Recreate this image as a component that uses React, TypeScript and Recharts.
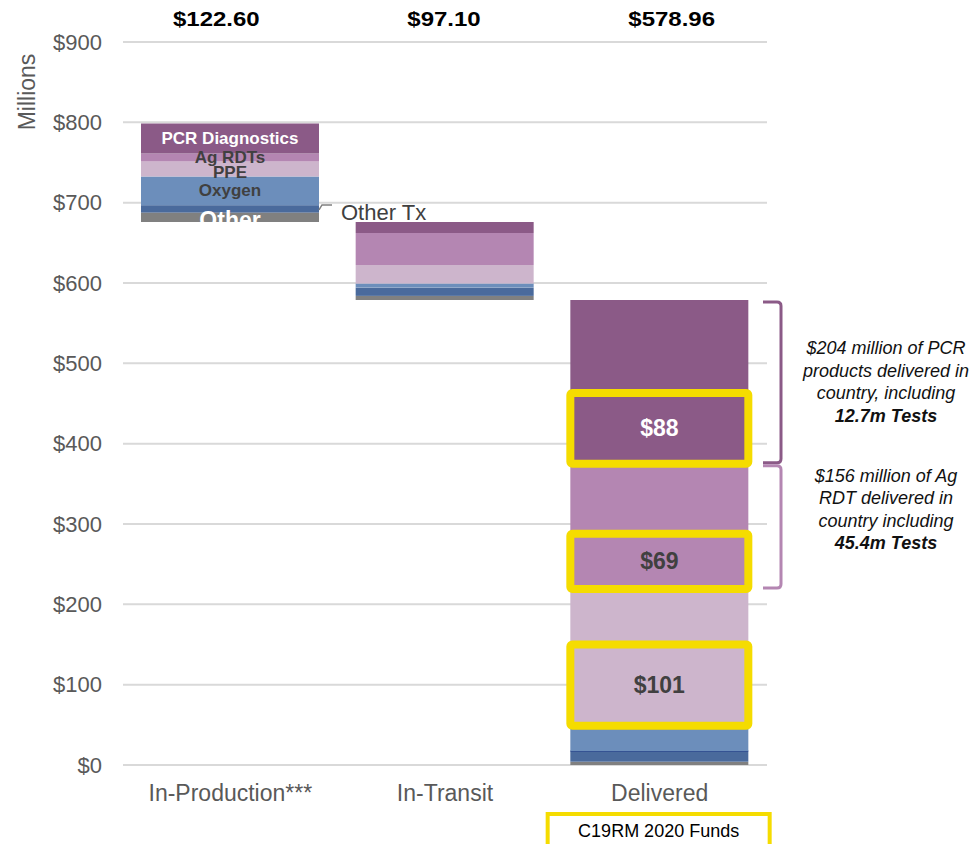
import { Bar, BarChart, CartesianGrid, LabelList, ReferenceArea, XAxis, YAxis } from "recharts";

// values in $ millions
const categories = ["In-Production***", "In-Transit", "Delivered"];
const totalLabels = ["$122.60", "$97.10", "$578.96"];
const baseValues = [676.06, 578.96, 0];
const otherValues = [11.6, 5.0, 4.1];
const otherTxValues = [9.2, 10.3, 13.3];
const oxygenValues = [35.6, 5.0, 31.6];
const ppeValues = [18.7, 23.2, 169.96];
const agRdtValues = [10.0, 39.8, 156.0];
const pcrValues = [37.5, 13.8, 204.0];
const yTicks = [0, 100, 200, 300, 400, 500, 600, 700, 800, 900];

// C19RM 2020 funded portions of delivered items (bottom of each segment)
const fundedKeys = ["ppe", "agRdt", "pcr"];
const fundedValues = [101, 69, 88];
const fundedLabels = ["$101", "$69", "$88"];

const noteKeys = ["pcr", "agRdt"];
const noteLines = [
  ["$204 million of PCR", "products delivered in", "country, including", "12.7m Tests"],
  ["$156 million of Ag", "RDT delivered in", "country  including", "45.4m Tests"],
];

const SEGMENTS = [
  { key: "other", color: "#808080" },
  { key: "otherTx", color: "#4A6A9C" },
  { key: "oxygen", color: "#6C8EBB" },
  { key: "ppe", color: "#CDB5CC" },
  { key: "agRdt", color: "#B486B2" },
  { key: "pcr", color: "#8B5A87" },
];

const data = categories.map((name, i) => ({
  name,
  base: baseValues[i],
  other: otherValues[i],
  otherTx: otherTxValues[i],
  oxygen: oxygenValues[i],
  ppe: ppeValues[i],
  agRdt: agRdtValues[i],
  pcr: pcrValues[i],
}));

const BAR_SIZE = 178;
const YELLOW = "#F5DC00";
const GREY = "#595959";
const FONT = "'Liberation Sans', Arial, sans-serif";
const TOP_DX = [-14, -1, 12];
const NOTE_SHIFT = [0, -17];
const NOTE_COLORS = ["#8B5A87", "#B486B2"];

const DELIVERED = categories.length - 1;

function segmentBottom(key: string, i: number) {
  const row: any = data[i];
  let sum = row.base;
  for (const s of SEGMENTS) {
    if (s.key === key) break;
    sum += row[s.key];
  }
  return sum;
}

function segmentLabel(text: string, color: string, size: number, shift = 0) {
  return (props: any) => {
    if (props.index !== 0) return null;
    const x = Number(props.x);
    const y = Number(props.y);
    const w = Number(props.width);
    const h = Number(props.height);
    return (
      <text
        x={x + w / 2}
        y={y + h / 2 + shift}
        textAnchor="middle"
        dominantBaseline="central"
        fontSize={size}
        fontWeight={700}
        fill={color}
      >
        {text}
      </text>
    );
  };
}

// yellow C19RM box drawn over the bottom part of a Delivered segment
function fundLabel(key: string) {
  const k = fundedKeys.indexOf(key);
  return (props: any) => {
    if (props.index !== DELIVERED) return null;
    const x = Number(props.x);
    const y = Number(props.y);
    const w = Number(props.width);
    const h = Number(props.height);
    const boxH = (h * fundedValues[k]) / (data[DELIVERED] as any)[key];
    const top = y + h - boxH;
    return (
      <g>
        <rect x={x} y={top} width={w} height={boxH} rx={2} fill="none" stroke={YELLOW} strokeWidth={8} />
        <text
          x={x + w / 2}
          y={top + boxH / 2}
          textAnchor="middle"
          dominantBaseline="central"
          fontSize={23}
          fontWeight={700}
          fill={key === "pcr" ? "#fff" : "#404040"}
        >
          {fundedLabels[k]}
        </text>
      </g>
    );
  };
}

function otherTxLabel(props: any) {
  if (props.index !== 0) return null;
  const x = Number(props.x) + Number(props.width);
  const y = Number(props.y) + Number(props.height) / 2;
  return (
    <g>
      <polyline points={`${x},${y + 1} ${x + 3},${y - 4} ${x + 13},${y - 4}`} fill="none" stroke="#808080" strokeWidth={1.5} />
      <text x={x + 22} y={y + 4} dominantBaseline="central" fontSize={22} fill="#404040">
        Other Tx
      </text>
    </g>
  );
}

function otherTxShape(props: any) {
  const { x, y, width, height, fill, index } = props;
  return (
    <g>
      <rect x={x} y={y} width={width} height={height} fill={fill} />
      {index === DELIVERED && <line x1={x} x2={x + width} y1={y} y2={y} stroke="#1F3A8A" strokeWidth={1.2} />}
    </g>
  );
}

function CategoryTick(props: any) {
  const { x, y, payload } = props;
  return (
    <g>
      <text x={x} y={y + 28} textAnchor="middle" fontSize={23} fill={GREY}>
        {payload.value}
      </text>
      {payload.value === categories[DELIVERED] && (
        <g>
          <rect x={x - 112} y={y + 41} width={222} height={40} fill="#fff" stroke={YELLOW} strokeWidth={4} />
          <text x={x - 1} y={y + 64} textAnchor="middle" fontSize={18} fill="#000">
            C19RM 2020 Funds
          </text>
        </g>
      )}
    </g>
  );
}

function TotalTick(props: any) {
  const { x, y, payload } = props;
  const i = categories.indexOf(payload.value);
  return (
    <g transform={`translate(${x + TOP_DX[i]},${y - 8}) scale(1.2,1)`}>
      <text x={0} y={0} textAnchor="middle" fontSize={20} fontWeight={700} fill="#000">
        {totalLabels[i]}
      </text>
    </g>
  );
}

function noteBracket(lines: string[], color: string, shift: number) {
  return (props: any) => {
    const { x, y, width, height } = props;
    const right = x + width;
    const top = y + 2;
    const bottom = y + height - 1;
    const mid = y + height / 2 + shift;
    const lh = 22.5;
    const first = mid - ((lines.length - 1) * lh) / 2 + 6;
    return (
      <g>
        <path
          d={`M${right - 4},${top} H${right + 10} Q${right + 14},${top} ${right + 14},${top + 4} V${bottom - 4} Q${right + 14},${bottom} ${right + 10},${bottom} H${right - 4}`}
          fill="none"
          stroke={color}
          strokeWidth={3}
        />
        {lines.map((line, k) => (
          <text
            key={k}
            x={right + 119}
            y={first + k * lh}
            textAnchor="middle"
            fontSize={18}
            fontStyle="italic"
            fontWeight={k === lines.length - 1 ? 700 : 400}
            fill="#111"
          >
            {line}
          </text>
        ))}
      </g>
    );
  };
}

export default function App() {
  return (
    <div style={{ position: "absolute", left: 0, top: 0, fontFamily: FONT }}>
      <BarChart
        width={977}
        height={844}
        data={data}
        margin={{ top: 0, right: 210, bottom: 0, left: 0 }}
        barSize={BAR_SIZE}
        style={{ fontFamily: FONT }}
      >
        <CartesianGrid vertical={false} stroke="#D9D9D9" strokeWidth={2} />
        <XAxis
          dataKey="name"
          axisLine={false}
          tickLine={false}
          interval={0}
          height={79}
          tick={(p: any) => <CategoryTick {...p} />}
        />
        <XAxis
          xAxisId="top"
          orientation="top"
          dataKey="name"
          axisLine={false}
          tickLine={false}
          interval={0}
          height={42}
          tick={(p: any) => <TotalTick {...p} />}
        />
        <YAxis
          domain={[0, 900]}
          ticks={yTicks}
          interval={0}
          width={123}
          axisLine={false}
          tickLine={false}
          tickMargin={15}
          tickFormatter={(v) => `$${v}`}
          tick={{ fontSize: 22, fill: GREY }}
          label={{
            content: () => (
              <text x={35} y={92} transform="rotate(-90 35 92)" textAnchor="middle" fontSize={23} fill={GREY}>
                Millions
              </text>
            ),
          }}
        />
        <Bar dataKey="base" stackId="s" fill="transparent" isAnimationActive={false} />
        <Bar dataKey="other" stackId="s" fill="#808080" isAnimationActive={false}>
          <LabelList content={segmentLabel("Other", "#fff", 23, 3)} />
        </Bar>
        <Bar dataKey="otherTx" stackId="s" fill="#4A6A9C" shape={otherTxShape} isAnimationActive={false}>
          <LabelList content={otherTxLabel} />
        </Bar>
        <Bar dataKey="oxygen" stackId="s" fill="#6C8EBB" isAnimationActive={false}>
          <LabelList content={segmentLabel("Oxygen", "#404040", 17)} />
        </Bar>
        <Bar dataKey="ppe" stackId="s" fill="#CDB5CC" isAnimationActive={false}>
          <LabelList content={segmentLabel("PPE", "#404040", 17, 3)} />
          <LabelList content={fundLabel("ppe")} />
        </Bar>
        <Bar dataKey="agRdt" stackId="s" fill="#B486B2" isAnimationActive={false}>
          <LabelList content={segmentLabel("Ag RDTs", "#404040", 17)} />
          <LabelList content={fundLabel("agRdt")} />
        </Bar>
        <Bar dataKey="pcr" stackId="s" fill="#8B5A87" isAnimationActive={false}>
          <LabelList content={segmentLabel("PCR Diagnostics", "#fff", 17)} />
          <LabelList content={fundLabel("pcr")} />
        </Bar>
        {noteKeys.map((key, k) => {
          const y1 = segmentBottom(key, DELIVERED);
          return (
            <ReferenceArea
              key={key}
              x1={categories[DELIVERED]}
              x2={categories[DELIVERED]}
              y1={y1}
              y2={y1 + (data[DELIVERED] as any)[key]}
              shape={noteBracket(noteLines[k], NOTE_COLORS[k], NOTE_SHIFT[k])}
            />
          );
        })}
      </BarChart>
    </div>
  );
}
